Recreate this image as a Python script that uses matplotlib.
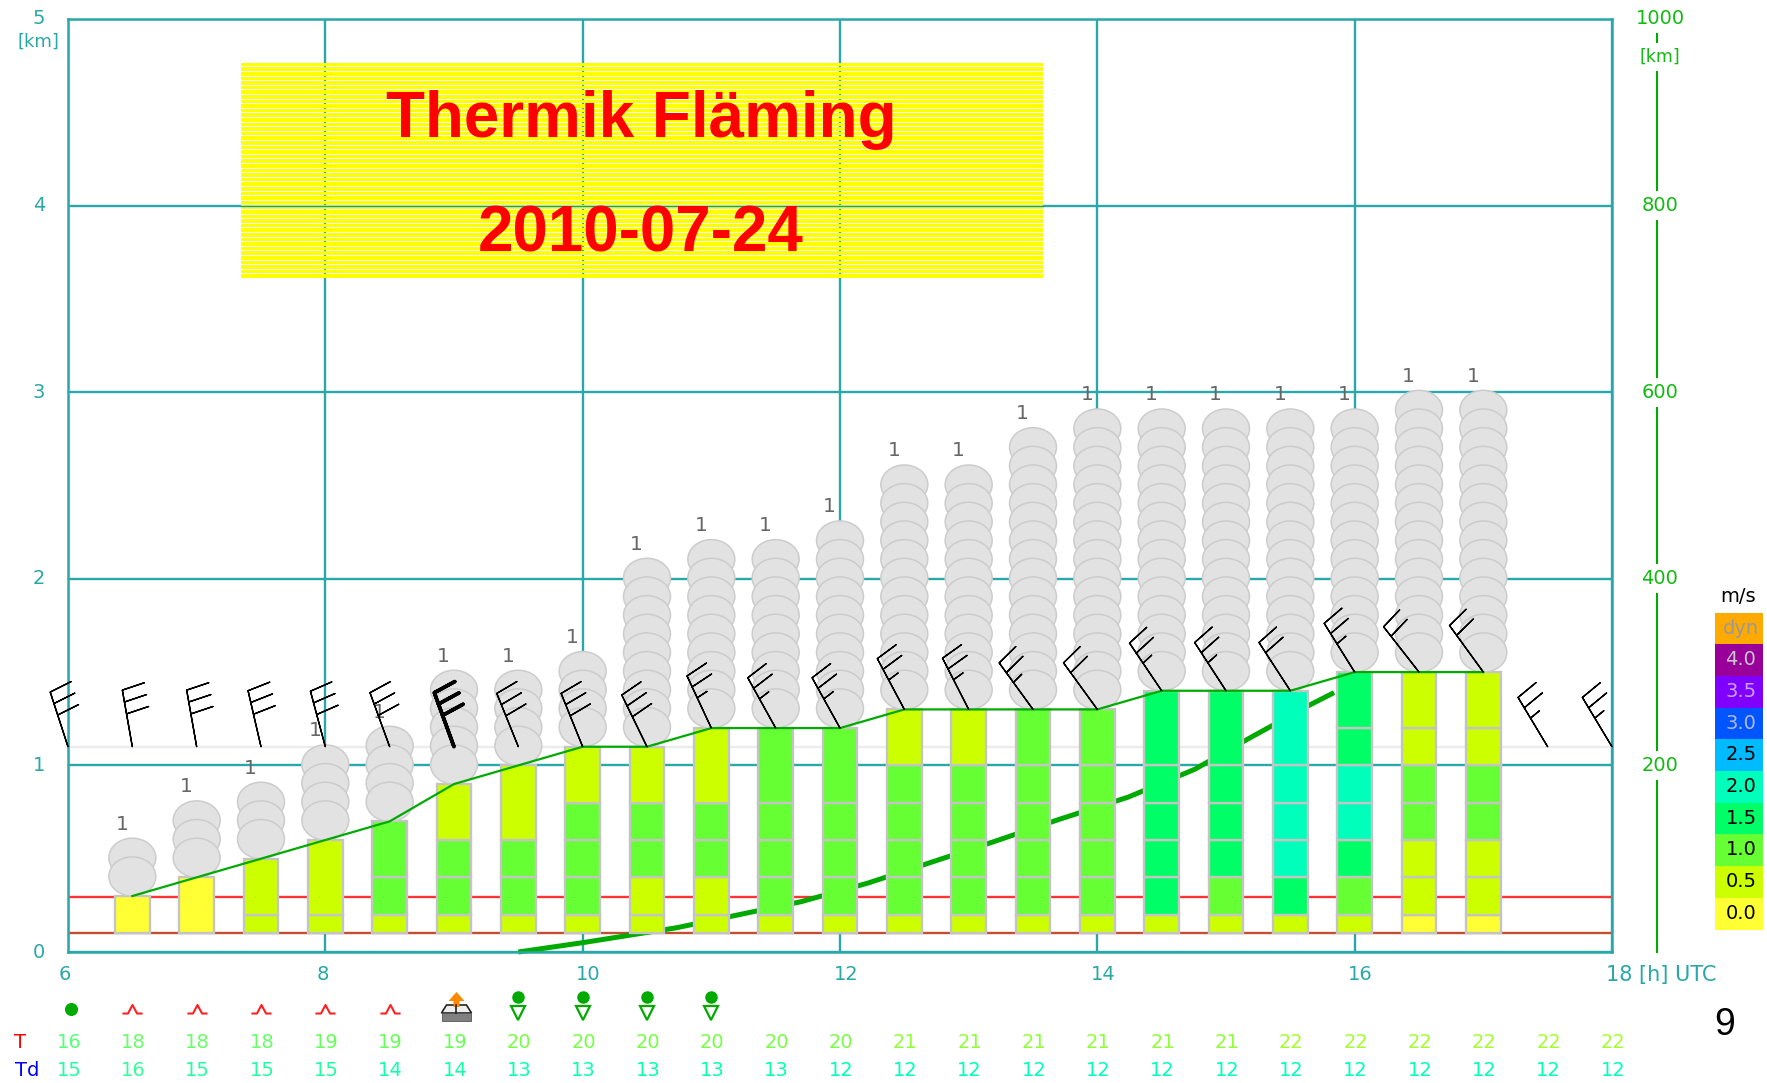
import numpy as np
import matplotlib
matplotlib.use("Agg")
import matplotlib.pyplot as plt
from matplotlib.patches import Ellipse, Polygon, Rectangle
from matplotlib.path import Path
from matplotlib.transforms import Affine2D, blended_transform_factory

# columns every half hour
col_hours = [6.5, 7, 7.5, 8, 8.5, 9, 9.5, 10, 10.5, 11, 11.5, 12, 12.5, 13, 13.5, 14, 14.5, 15, 15.5, 16, 16.5, 17]
col_tops = [0.3, 0.4, 0.5, 0.6, 0.7, 0.9, 1.0, 1.1, 1.1, 1.2, 1.2, 1.2, 1.3, 1.3, 1.3, 1.3, 1.4, 1.4, 1.4, 1.5, 1.5, 1.5]
cloud_counts = [2, 3, 3, 4, 4, 5, 4, 4, 9, 9, 9, 10, 12, 12, 14, 15, 14, 14, 14, 13, 14, 14]

# climb rate class of each bar segment, bottom to top
segment_edges = [0.1, 0.2, 0.4, 0.6, 0.8, 1.0, 1.2]
col_segments = [
    ["0.0"],
    ["0.0"],
    ["0.5", "0.5"],
    ["0.5", "0.5"],
    ["0.5", "1.0", "1.0"],
    ["0.5", "1.0", "1.0", "0.5"],
    ["0.5", "1.0", "1.0", "0.5"],
    ["0.5", "1.0", "1.0", "1.0", "0.5"],
    ["0.5", "0.5", "1.0", "1.0", "0.5"],
    ["0.5", "0.5", "1.0", "1.0", "0.5"],
    ["0.5", "1.0", "1.0", "1.0", "1.0"],
    ["0.5", "1.0", "1.0", "1.0", "1.0"],
    ["0.5", "1.0", "1.0", "1.0", "1.0", "0.5"],
    ["0.5", "1.0", "1.0", "1.0", "1.0", "0.5"],
    ["0.5", "1.0", "1.0", "1.0", "1.0", "1.0"],
    ["0.5", "1.0", "1.0", "1.0", "1.0", "1.0"],
    ["0.5", "1.5", "1.5", "1.5", "1.5", "1.5"],
    ["0.5", "1.0", "1.5", "1.5", "1.5", "1.5"],
    ["0.5", "1.5", "2.0", "2.0", "2.0", "2.0"],
    ["0.5", "1.0", "1.5", "2.0", "2.0", "1.5", "1.5"],
    ["0.0", "0.5", "0.5", "1.0", "1.0", "0.5", "0.5"],
    ["0.0", "0.5", "0.5", "1.0", "1.0", "0.5", "0.5"],
]

legend_labels = ["dyn", "4.0", "3.5", "3.0", "2.5", "2.0", "1.5", "1.0", "0.5", "0.0"]
legend_colors = ["#ffaa00", "#990099", "#8000ff", "#0055ff", "#00bbff", "#00ffbb", "#00ff66", "#66ff33", "#ccff00", "#ffff33"]
legend_text = ["#999999", "#c8c8c8", "#c8a0ff", "#b0b8e8", "black", "black", "black", "black", "black", "black"]

# wind barbs
barb_hours = [6, 6.5, 7, 7.5, 8, 8.5, 9, 9.5, 10, 10.5, 11, 11.5, 12, 12.5, 13, 13.5, 14, 14.5, 15, 15.5, 16, 16.5, 17, 17.5, 18]
barb_base = [1.1, 1.1, 1.1, 1.1, 1.1, 1.1, 1.1, 1.1, 1.1, 1.1, 1.2, 1.2, 1.2, 1.3, 1.3, 1.3, 1.3, 1.4, 1.4, 1.4, 1.5, 1.5, 1.5, 1.1, 1.1]
barb_angle = [18, 10, 10, 13, 15, 20, 20, 22, 22, 26, 25, 29, 29, 28, 27, 36, 36, 34, 33, 33, 32, 38, 36, 31, 31]
barb_speed = [30, 30, 30, 30, 30, 30, 30, 30, 30, 30, 25, 25, 25, 25, 25, 25, 20, 25, 25, 20, 25, 20, 20, 25, 25]
barb_width = [1.0, 1.0, 1.0, 1.0, 1.0, 1.0, 2.6, 1.0, 1.0, 1.0, 1.0, 1.0, 1.0, 1.0, 1.0, 1.0, 1.0, 1.0, 1.0, 1.0, 1.0, 1.0, 1.0, 1.0, 1.0]

# thick green line, hidden behind the bars
track_hours = [9.5, 10, 10.73, 11.7, 12.22, 13.19, 13.7, 14.24, 14.76, 15.14, 15.64, 15.84]
track_km = [0.0, 0.05, 0.13, 0.27, 0.37, 0.59, 0.71, 0.83, 0.98, 1.13, 1.32, 1.39]

# rows under the chart
row_hours = [6, 6.5, 7, 7.5, 8, 8.5, 9, 9.5, 10, 10.5, 11, 11.5, 12, 12.5, 13, 13.5, 14, 14.5, 15, 15.5, 16, 16.5, 17, 17.5, 18]
temps = [16, 18, 18, 18, 19, 19, 19, 20, 20, 20, 20, 20, 20, 21, 21, 21, 21, 21, 21, 22, 22, 22, 22, 22, 22]
dewpoints = [15, 16, 15, 15, 15, 14, 14, 13, 13, 13, 13, 13, 12, 12, 12, 12, 12, 12, 12, 12, 12, 12, 12, 12, 12]
temp_colors = {16: "#55ff77", 18: "#66ff66", 19: "#66ff55", 20: "#77ff44", 21: "#90ff38", 22: "#a4ff30"}
dew_colors = {16: "#33ff99", 15: "#22ffa0", 14: "#11ffaa", 13: "#08ffb0", 12: "#00ffbb"}
caret_hours = [6.5, 7, 7.5, 8, 8.5]
shower_hours = [9.5, 10, 10.5, 11]

hour_ticks = [6, 8, 10, 12, 14, 16]
hour_label_shift = [-3, -3, 6, 6, 6, 6]
km_ticks = [0, 1, 2, 3, 4, 5]
dist_ticks = [1000, 800, 600, 400, 200]

TEAL = "#2aa8a8"
GREEN = "#00aa00"
SCALE_GREEN = "#11bb11"
GRAY_EDGE = "#c4c4c4"
bar_width = 0.27
px_h = 1 / 128.67  # one pixel in hours

fig = plt.figure(figsize=(17.67, 10.83), dpi=100)
ax = fig.add_axes([68 / 1767, (1083 - 952) / 1083, (1612 - 68) / 1767, (952 - 19) / 1083])
ax.set_xlim(6, 18)
ax.set_ylim(0, 5)
ax.set_xticks(range(6, 19, 2))
ax.set_yticks(km_ticks)
ax.tick_params(length=0, labelbottom=False, labelleft=False)
ax.grid(color=TEAL, linewidth=1.7, zorder=1)
ax.set_axisbelow(True)
for sp in ax.spines.values():
    sp.set_color(TEAL)
    sp.set_linewidth(1.8)

# pixel coordinates from the top left, for everything around the chart
pix = Affine2D().scale(1, -1).translate(0, 1083)
hour_pix = blended_transform_factory(ax.transData, pix)
pix_km = blended_transform_factory(pix, ax.transData)

ax.axhline(0.295, color="#ff3333", linewidth=1.7, zorder=2)
ax.axhline(0.1, color="#c05030", linewidth=1.7, zorder=2)
ax.axhline(1.1, color="#ececec", linewidth=1.7, zorder=2)
ax.plot(track_hours, track_km, color=GREEN, linewidth=3.6, solid_capstyle="butt", zorder=2.5, clip_on=False)

# title box: yellow stripes with thin gaps, the grid shows through
for y in np.arange(3.612, 4.753, 0.02465):
    ax.add_patch(Rectangle((7.345, y), 13.58 - 7.345, 0.0195, facecolor="#ffff00", edgecolor="none",
                           antialiased=False, zorder=2))
ax.plot([7.345, 13.58], [4, 4], color="#109a9a", linewidth=1, zorder=2.2)
ax.text(641, 120, "Thermik Fläming", transform=pix, color="#ff0000", fontsize=45.9, fontweight="bold",
        family="Liberation Sans", ha="center", va="center", zorder=6)
ax.text(641, 235, "2010-07-24", transform=pix, color="#ff0000", fontsize=45.9, fontweight="bold",
        family="Liberation Sans", ha="center", va="center", zorder=6)

# climb bars
for hour, top, segs in zip(col_hours, col_tops, col_segments):
    edges = segment_edges[:len(segs)] + [top]
    for i, name in enumerate(segs):
        ax.bar(hour, edges[i + 1] - edges[i], bottom=edges[i], width=bar_width,
               color=legend_colors[legend_labels.index(name)], edgecolor=GRAY_EDGE, linewidth=1.7, zorder=3)

# clouds: lower ones lie over the upper ones
for hour, base, count in zip(col_hours, col_tops, cloud_counts):
    for i in range(count - 1, -1, -1):
        ax.add_patch(Ellipse((hour, base + 0.105 + 0.1 * i), 0.365, 0.21, facecolor="#e2e2e2",
                             edgecolor="#cccccc", linewidth=1.1, zorder=4))
    ax.text(hour - 0.08, base + 0.21 + 0.1 * (count - 1) + 0.075, "1", color="#666666", fontsize=14.5,
            ha="center", va="center", zorder=4.5)

ax.plot(col_hours, col_tops, color=GREEN, linewidth=1.6, zorder=5)

# wind barbs
rad = np.radians(barb_angle)
ax.barbs(barb_hours, barb_base, np.array(barb_speed) * np.sin(rad), -np.array(barb_speed) * np.cos(rad),
         length=9.1, pivot="tip", sizes={"spacing": 0.21, "height": 0.4, "width": 0.12, "emptybarb": 0},
         barbcolor="black", linewidth=barb_width, flip_barb=False, zorder=5.5, clip_on=False)

# left scale
for km in km_ticks:
    ax.text(39, 952 - km * 186.6, str(km), transform=pix, color=TEAL, fontsize=14, ha="center", va="center")
ax.text(38, 42, "[km]", transform=pix, color=TEAL, fontsize=13, ha="center", va="center")

# hour labels
for hour, shift in zip(hour_ticks, hour_label_shift):
    ax.text(hour + shift * px_h, 975, str(hour), transform=hour_pix, color=TEAL, fontsize=14, ha="center", va="center")
ax.text(18 - 6 * px_h, 975, "18 [h] UTC", transform=hour_pix, color=TEAL, fontsize=15, ha="left", va="center")

# distance scale on the right
ax.plot([1657, 1657], [0, 4.93], transform=pix_km, color=GREEN, linewidth=1.5, clip_on=False)
for dist in dist_ticks:
    ax.text(1660, dist / 200, str(dist), transform=pix_km, color=SCALE_GREEN, fontsize=14, ha="center",
            va="center", bbox=dict(facecolor="white", edgecolor="none", pad=3.5), zorder=3)
ax.text(1660, 57, "[km]", transform=pix, color=SCALE_GREEN, fontsize=12.5, ha="center", va="center",
        bbox=dict(facecolor="white", edgecolor="none", pad=3.5), zorder=3)

# climb legend
ax.text(1738, 596, "m/s", transform=pix, color="black", fontsize=14, ha="center", va="center")
for i, (label, colr, tcol) in enumerate(zip(legend_labels, legend_colors, legend_text)):
    ax.add_patch(Rectangle((1715, 612.5 + 31.7 * i), 48, 31.7, transform=pix, facecolor=colr, edgecolor="none", clip_on=False))
    ax.text(1741, 612.5 + 31.7 * i + 15.5, label, transform=pix, color=tcol, fontsize=14, ha="center", va="center")

# weather symbols
ax.plot([6.02], [1009], transform=hour_pix, marker="o", markersize=8.4, color=GREEN, clip_on=False)
caret = Path([(-1, -0.4), (-0.45, -0.4), (0, 0.45), (0.45, -0.4), (1, -0.4)])
ax.plot(caret_hours, [1009] * len(caret_hours), transform=hour_pix, linestyle="none", marker=caret, markersize=14.5,
        markerfacecolor="none", markeredgecolor="#ff2222", markeredgewidth=1.5, clip_on=False)
for hour in shower_hours:
    ax.plot([hour], [997], transform=hour_pix, marker="o", markersize=8, color=GREEN, clip_on=False)
    ax.plot([hour], [1013], transform=hour_pix, marker="v", markersize=10, markerfacecolor="none",
            markeredgecolor=GREEN, markeredgewidth=1.6, clip_on=False)

ix = 9 + 2.5 * px_h
ax.add_patch(Polygon([(ix - 15 * px_h, 1013), (ix - 10 * px_h, 1005), (ix + 10 * px_h, 1005), (ix + 15 * px_h, 1013)],
                     transform=hour_pix, facecolor="#eeeeee", edgecolor="#222222", linewidth=1.2, clip_on=False))
ax.plot([ix, ix], [1005, 1013], transform=hour_pix, color="#222222", linewidth=1.2, clip_on=False)
ax.add_patch(Rectangle((ix - 15 * px_h, 1013), 30 * px_h, 8, transform=hour_pix, facecolor="#808080", edgecolor="#555555",
                       linewidth=0.6, clip_on=False))
ax.add_patch(Polygon([(ix, 992), (ix + 8 * px_h, 1001), (ix + 3 * px_h, 1001), (ix + 3 * px_h, 1007), (ix - 3 * px_h, 1007),
                      (ix - 3 * px_h, 1001), (ix - 8 * px_h, 1001)], transform=hour_pix, facecolor="#ff8800",
                     edgecolor="none", clip_on=False))

# temperature rows
ax.text(20, 1043, "T", transform=pix, color="#ff0000", fontsize=14, ha="center", va="center")
ax.text(27, 1071, "Td", transform=pix, color="#0000ff", fontsize=14, ha="center", va="center")
for hour, t, td in zip(row_hours, temps, dewpoints):
    ax.text(hour + 1 * px_h, 1043, str(t), transform=hour_pix, color=temp_colors[t], fontsize=14, ha="center", va="center")
    ax.text(hour + 1 * px_h, 1071, str(td), transform=hour_pix, color=dew_colors[td], fontsize=14, ha="center", va="center")

ax.text(1725, 1025, "9", transform=pix, color="black", fontsize=27, family="Liberation Sans", ha="center", va="center")

fig.savefig("out.png", dpi=100)
